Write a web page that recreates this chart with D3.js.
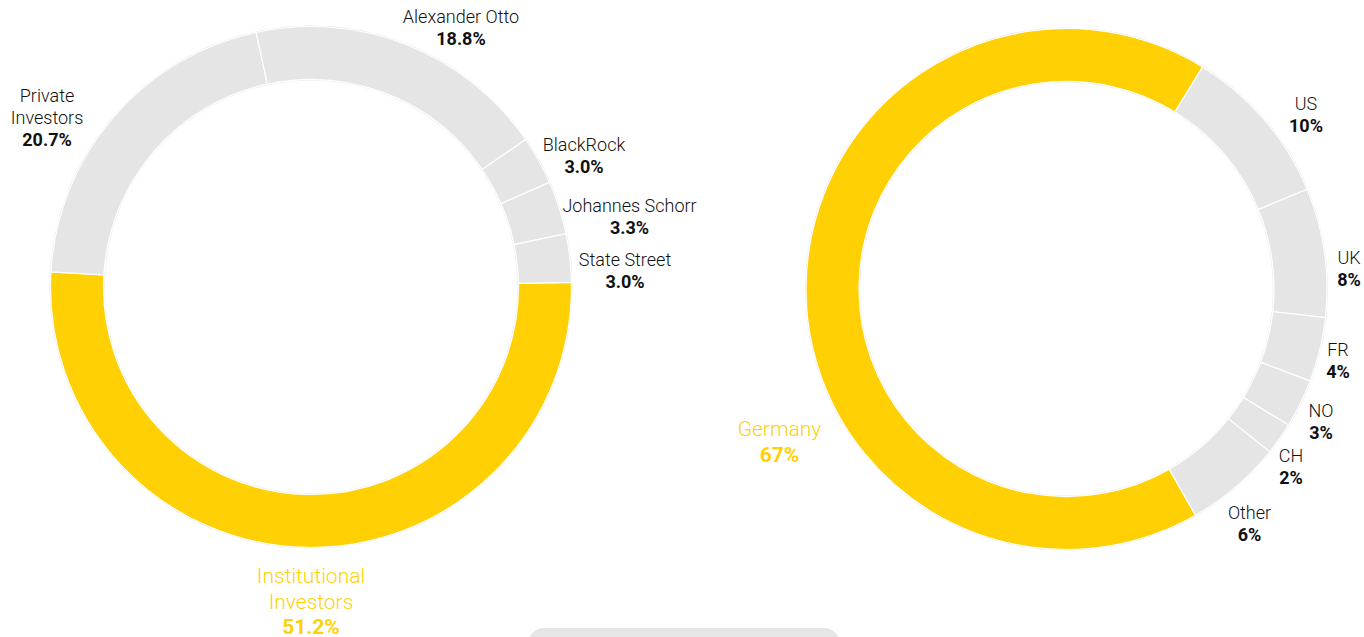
<!DOCTYPE html>
<html>
<head>
<meta charset="utf-8">
<script src="https://cdn.jsdelivr.net/npm/d3@7"></script>
<style>
  html, body { margin: 0; padding: 0; background: #fff; }
  svg { display: block; }
  text { font-family: Roboto, "Noto Sans", sans-serif; }
</style>
</head>
<body>
<svg id="chart" width="1364" height="637"></svg>
<script>
// Shareholder structure
const holderNames  = ["Institutional\nInvestors", "Private\nInvestors", "Alexander Otto", "BlackRock", "Johannes Schorr", "State Street"];
const holderShares = [51.2, 20.7, 18.8, 3.0, 3.3, 3.0];
const holderLabels = ["51.2%", "20.7%", "18.8%", "3.0%", "3.3%", "3.0%"];

// Geographical split of institutional investors
const countryNames  = ["Germany", "US", "UK", "FR", "NO", "CH", "Other"];
const countryShares = [67, 10, 8, 4, 3, 2, 6];
const countryLabels = ["67%", "10%", "8%", "4%", "3%", "2%", "6%"];

const YELLOW = "#FFD105";
const GREY = "#E5E5E5";
const TEXT = "#111";

const svg = d3.select("#chart");

// Label anchors (first baseline) relative to each donut centre
const holderLabelPos = [[0, 296], [-264, -185], [150, -264], [273, -136], [318.5, -75], [314, -21]];
const countryLabelPos = [[-287, 147], [239.5, -179], [282.5, -25], [271.5, 67], [254.5, 128], [224.5, 173], [183, 230]];

function donut(opts) {
  const { cx, cy, names, values, labels, startDeg, labelPos } = opts;
  const outer = 260.5, inner = 207.5;
  const start = startDeg * Math.PI / 180;
  const pie = d3.pie().sort(null).value(d => d.v).startAngle(start).endAngle(start + 2 * Math.PI);
  const arc = d3.arc().innerRadius(inner).outerRadius(outer);
  const data = names.map((n, i) => ({ n, v: values[i], l: labels[i], i }));
  const g = svg.append("g").attr("transform", `translate(${cx},${cy})`);

  // faint rim around the ring
  g.append("circle").attr("r", outer + 0.5).attr("fill", "none").attr("stroke", "#d8d8d8").attr("stroke-width", 0.8);
  g.append("circle").attr("r", inner - 0.5).attr("fill", "none").attr("stroke", "#e4e4e4").attr("stroke-width", 0.8);

  g.selectAll("path.slice")
    .data(pie(data))
    .join("path")
    .attr("class", "slice")
    .attr("d", arc)
    .attr("fill", d => d.data.i === 0 ? YELLOW : GREY)
    .attr("stroke", "#fff")
    .attr("stroke-width", 1.2);

  data.forEach((d, i) => {
    const hi = i === 0;
    const fs = hi ? 21 : 18;
    const lh = hi ? 25.5 : 22;
    const lines = d.n.split("\n");
    const t = g.append("text")
      .attr("x", labelPos[i][0])
      .attr("y", labelPos[i][1])
      .attr("text-anchor", "middle")
      .attr("fill", hi ? YELLOW : TEXT)
      .style("font-size", fs + "px");
    lines.forEach((ln, k) => {
      t.append("tspan").attr("x", labelPos[i][0]).attr("dy", k === 0 ? 0 : lh)
        .style("font-weight", 300).text(ln);
    });
    t.append("tspan").attr("x", labelPos[i][0]).attr("dy", lh)
      .style("font-weight", 700).text(d.l);
  });
}

donut({ cx: 311, cy: 287, names: holderNames, values: holderShares, labels: holderLabels, startDeg: 89, labelPos: holderLabelPos });
donut({ cx: 1066.5, cy: 289, names: countryNames, values: countryShares, labels: countryLabels, startDeg: 150.3, labelPos: countryLabelPos });

// button strip at the bottom edge
svg.append("rect")
  .attr("x", 528).attr("y", 628).attr("width", 312).attr("height", 40)
  .attr("rx", 16).attr("fill", "#e6e6e6");
</script>
</body>
</html>
